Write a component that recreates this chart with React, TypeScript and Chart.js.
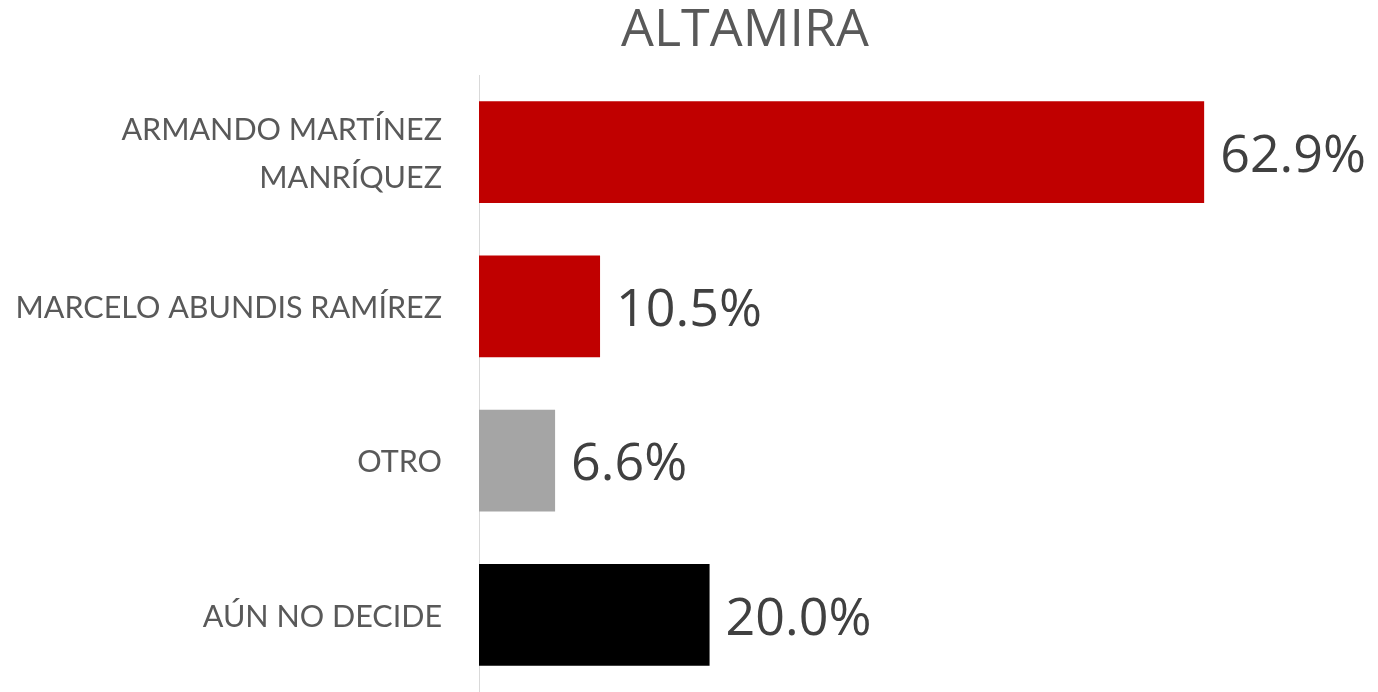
import React, { useEffect, useRef } from "react";
import { Chart, registerables } from "chart.js";

Chart.register(...registerables);

const TITLE = "ALTAMIRA";
const categories: (string | string[])[] = [
  ["ARMANDO MARTÍNEZ", "MANRÍQUEZ"],
  "MARCELO ABUNDIS RAMÍREZ",
  "OTRO",
  "AÚN NO DECIDE",
];
const values = [62.9, 10.5, 6.6, 20.0];
const barColors = ["#C00000", "#C00000", "#A5A5A5", "#000000"];

export default function App() {
  const ref = useRef<HTMLCanvasElement | null>(null);
  useEffect(() => {
    document.body.style.margin = "0";
    if (!ref.current) return;
    const titlePlugin = {
      id: "customTitle",
      afterDraw(chart: any) {
        const ctx = chart.ctx;
        ctx.save();
        ctx.font = "52px 'Open Sans'";
        ctx.fillStyle = "#595959";
        ctx.textAlign = "center";
        ctx.textBaseline = "middle";
        ctx.fillText(TITLE, 745, 31);
        ctx.restore();
      },
    };
    const valueLabels = {
      id: "valueLabels",
      afterDatasetsDraw(chart: any) {
        const ctx = chart.ctx;
        const meta = chart.getDatasetMeta(0);
        ctx.save();
        ctx.font = "52px 'Open Sans'";
        ctx.fillStyle = "#404040";
        ctx.textAlign = "left";
        ctx.textBaseline = "middle";
        meta.data.forEach((bar: any, i: number) => {
          ctx.fillText(values[i].toFixed(1) + "%", bar.x + 16, bar.y + 5);
        });
        ctx.restore();
      },
    };
    const chart = new Chart(ref.current, {
      type: "bar",
      data: {
        labels: categories,
        datasets: [
          {
            data: values,
            backgroundColor: barColors,
            barPercentage: 0.66,
            categoryPercentage: 1,
          },
        ],
      },
      options: {
        indexAxis: "y",
        animation: false,
        responsive: false,
        maintainAspectRatio: false,
        layout: { autoPadding: false, padding: { top: 75, right: 92, bottom: -3, left: 0 } },
        plugins: {
          legend: { display: false },
          title: { display: false },
          tooltip: { enabled: false },
        },
        scales: {
          x: { display: false, min: 0, max: 70 },
          y: {
            grid: { display: false },
            border: { display: true, color: "#D9D9D9", width: 1 },
            afterFit(scale: any) {
              scale.width = 479;
              scale.paddingTop = 0;
              scale.paddingBottom = 0;
            },
            ticks: {
              color: "#595959",
              font: { family: "Lato", size: 30.5, lineHeight: 1.55 },
              padding: 29,
              labelOffset: 2,
              crossAlign: "near",
            },
          },
        },
      },
      plugins: [titlePlugin, valueLabels],
    });
    return () => chart.destroy();
  }, []);
  return (
    <div style={{ width: 1378, height: 692, position: "relative" }}>
      <canvas ref={ref} width={1378} height={692} style={{ display: "block" }} />
    </div>
  );
}
